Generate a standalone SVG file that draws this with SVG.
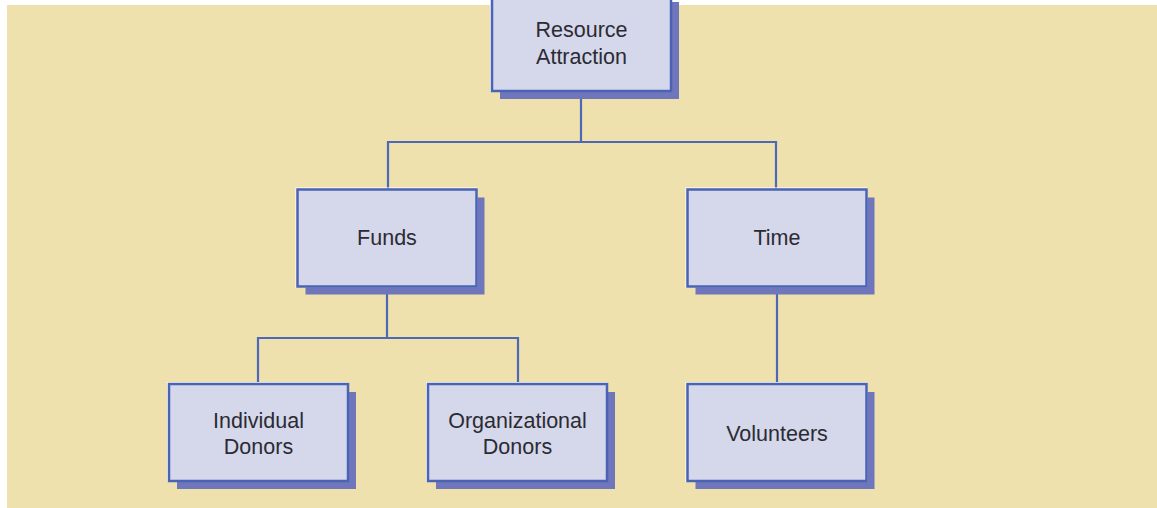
<svg xmlns="http://www.w3.org/2000/svg" width="1157" height="508" viewBox="0 0 1157 508">
  <defs>
    <style>
      .bg { fill: #eee1ae; }
      .shadow { fill: #6f76bb; }
      .halo { fill: none; stroke: #ffffff; stroke-width: 1; }
      .box { fill: #d5d7ea; stroke: #4a63b4; stroke-width: 2.5; }
      .wire { fill: none; stroke: #4d68b6; stroke-width: 2.2; }
      .label { font-family: "Liberation Sans", Arial, sans-serif; font-size: 21.5px; fill: #2b2b33; text-anchor: middle; }
    </style>
  </defs>

  <rect x="0" y="0" width="1157" height="508" fill="#ffffff"/>
  <rect class="bg" x="7" y="5" width="1150" height="503"/>

  <!-- connectors -->
  <g id="connectors">
    <path class="wire" d="M581 91 V142"/>
    <path class="wire" d="M388 189 V142 H776 V189"/>
    <path class="wire" d="M387 287 V338"/>
    <path class="wire" d="M258 383 V338 H518 V383"/>
    <path class="wire" d="M777 286 V383"/>
  </g>

  <!-- Resource Attraction -->
  <g id="resource-attraction">
    <rect class="shadow" x="500" y="2" width="179" height="97"/>
    <rect class="halo" x="490.5" y="-7.5" width="181" height="99"/>
    <rect class="box" x="492" y="-6" width="179" height="97"/>
    <text class="label" x="581.5" y="37">Resource</text>
    <text class="label" x="581.5" y="64">Attraction</text>
  </g>

  <!-- Funds -->
  <g id="funds">
    <rect class="shadow" x="305.5" y="197.5" width="179" height="97"/>
    <rect class="halo" x="296" y="188" width="181" height="99"/>
    <rect class="box" x="297.5" y="189.5" width="179" height="97"/>
    <text class="label" x="387" y="245">Funds</text>
  </g>

  <!-- Time -->
  <g id="time">
    <rect class="shadow" x="695.5" y="197.5" width="179" height="97"/>
    <rect class="halo" x="686" y="188" width="181" height="99"/>
    <rect class="box" x="687.5" y="189.5" width="179" height="97"/>
    <text class="label" x="777" y="245">Time</text>
  </g>

  <!-- Individual Donors -->
  <g id="individual-donors">
    <rect class="shadow" x="177" y="392" width="179" height="97"/>
    <rect class="halo" x="167.5" y="382.5" width="181" height="99"/>
    <rect class="box" x="169" y="384" width="179" height="97"/>
    <text class="label" x="258.5" y="428">Individual</text>
    <text class="label" x="258.5" y="454">Donors</text>
  </g>

  <!-- Organizational Donors -->
  <g id="organizational-donors">
    <rect class="shadow" x="436" y="392" width="179" height="97"/>
    <rect class="halo" x="426.5" y="382.5" width="181" height="99"/>
    <rect class="box" x="428" y="384" width="179" height="97"/>
    <text class="label" x="517.5" y="428">Organizational</text>
    <text class="label" x="517.5" y="454">Donors</text>
  </g>

  <!-- Volunteers -->
  <g id="volunteers">
    <rect class="shadow" x="695.5" y="392" width="179" height="97"/>
    <rect class="halo" x="686" y="382.5" width="181" height="99"/>
    <rect class="box" x="687.5" y="384" width="179" height="97"/>
    <text class="label" x="777" y="441">Volunteers</text>
  </g>
</svg>
